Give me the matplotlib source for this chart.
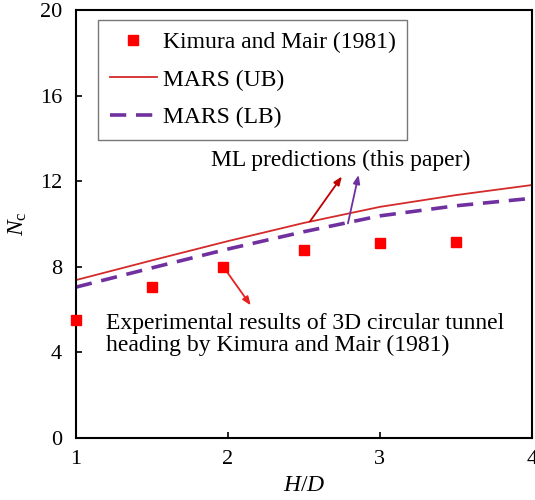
import numpy as np
import matplotlib
matplotlib.use('Agg')
import matplotlib.pyplot as plt

plt.rcParams['font.family'] = 'Liberation Serif'
plt.rcParams['mathtext.fontset'] = 'custom'
plt.rcParams['mathtext.rm'] = 'Liberation Serif'
plt.rcParams['mathtext.it'] = 'Liberation Serif:italic'

# experimental data (Kimura and Mair, 1981)
exp_hd = [1.0, 1.5, 1.97, 2.5, 3.0, 3.5]
exp_nc = [5.5, 7.07, 8.0, 8.78, 9.1, 9.14]

# MARS predictions
hd = [1.0, 1.5, 2.0, 2.5, 3.0, 3.5, 4.0]
nc_ub = [7.38, 8.3, 9.2, 10.05, 10.8, 11.35, 11.82]
nc_lb = [7.05, 7.95, 8.83, 9.64, 10.38, 10.85, 11.2]

fig = plt.figure(figsize=(5.35, 5.0), dpi=100)
ax = fig.add_axes([0.142, 0.124, 0.852, 0.856])

ax.plot(exp_hd, exp_nc, 's', color='#FF0000', markersize=7, clip_on=False,
        label='Kimura and Mair (1981)', zorder=5)
ax.plot(hd, nc_ub, '-', color='#D42A2A', lw=1.3, label='MARS (UB)')
ax.plot(hd, nc_lb, '--', color='#7030A0', lw=2.6, dashes=(4.5, 2.7), label='MARS (LB)')

ax.set_xlim(1, 4)
ax.set_ylim(0, 20)
ax.set_xticks([1, 2, 3, 4])
ax.set_yticks([0, 4, 8, 12, 16, 20])
ax.tick_params(direction='in', length=4, width=1.2, labelsize=16)
ax.tick_params(axis='x', pad=9)
ax.tick_params(axis='y', pad=10)
for s in ax.spines.values():
    s.set_linewidth(1.5)

ax.set_xlabel('$H/D$', fontsize=17, labelpad=4)
ax.set_ylabel('$N_\\mathrm{c}$', fontsize=17, labelpad=8)

leg = ax.legend(loc='upper left', bbox_to_anchor=(0.048, 0.977), fontsize=17,
                frameon=True, fancybox=False, edgecolor='#555555',
                handlelength=2.0, borderpad=0.5, labelspacing=0.68,
                handletextpad=0.25, borderaxespad=0)
leg.get_frame().set_linewidth(1.0)

ax.text(2.74, 12.95, 'ML predictions (this paper)', fontsize=17,
        ha='center', va='center')
ax.annotate('', xy=(2.75, 12.22), xytext=(2.54, 10.12),
            arrowprops=dict(arrowstyle='-|>,head_length=0.5,head_width=0.2',
                            color='#C00000', lw=1.3, shrinkA=0, shrinkB=0))
ax.annotate('', xy=(2.86, 12.29), xytext=(2.79, 10.03),
            arrowprops=dict(arrowstyle='-|>,head_length=0.5,head_width=0.2',
                            color='#7030A0', lw=1.3, shrinkA=0, shrinkB=0))
ax.annotate('', xy=(2.15, 6.2), xytext=(1.99, 7.8),
            arrowprops=dict(arrowstyle='-|>,head_length=0.5,head_width=0.2',
                            color='#E82020', lw=1.3, shrinkA=0, shrinkB=0))

ax.text(1.2, 4.85, 'Experimental results of 3D circular tunnel\nheading by Kimura and Mair (1981)',
        fontsize=17, ha='left', va='center', linespacing=1.05)

fig.savefig('out.png', dpi=100)
